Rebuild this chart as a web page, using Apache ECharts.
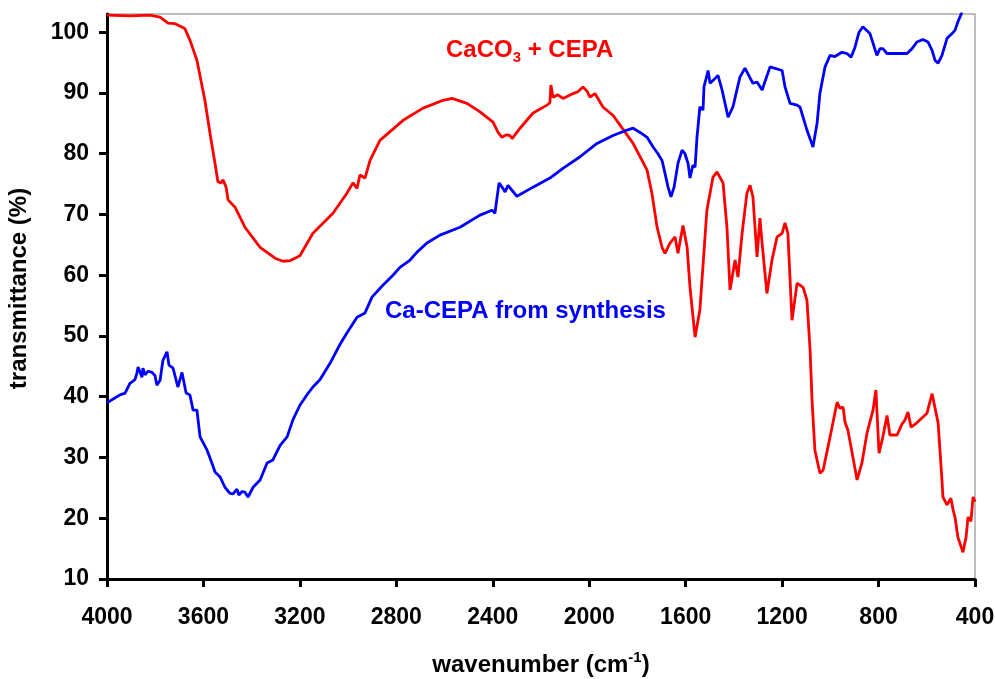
<!DOCTYPE html>
<html>
<head>
<meta charset="utf-8">
<script src="https://cdn.jsdelivr.net/npm/echarts@6/dist/echarts.min.js"></script>
<style>
  html, body { margin: 0; padding: 0; background: #fff; }
  #chart { width: 995px; height: 679px; }
</style>
</head>
<body>
<div id="chart"></div>
<script>
// IR spectra: CaCO3 + CEPA (red) and Ca-CEPA from synthesis (blue)
const redWavenumber = [4000,3905,3822,3780,3747,3718,3677,3656,3627,3594,3573,3552,3540,3527,3519,3506,3498,3469,3428,3365,3303,3270,3241,3200,3146,3063,3005,2980,2963,2951,2930,2909,2868,2772,2689,2606,2569,2507,2453,2399,2378,2362,2345,2329,2320,2287,2233,2175,2163,2159,2150,2130,2109,2067,2047,2026,2009,1997,1976,1943,1901,1872,1818,1789,1760,1740,1719,1698,1686,1665,1644,1632,1611,1594,1582,1561,1541,1512,1487,1470,1445,1429,1416,1395,1383,1366,1346,1333,1321,1304,1292,1283,1263,1242,1221,1200,1188,1176,1159,1138,1113,1097,1084,1076,1064,1043,1030,1001,972,960,947,939,927,889,869,848,823,811,798,782,765,753,723,703,690,678,665,641,628,599,578,553,537,533,516,500,491,483,471,450,437,429,417,408,400];
const redTransmittance = [102.8,102.7,102.8,102.5,101.5,101.4,100.6,98.7,95.4,88.8,83.4,78.4,75.4,75.2,75.7,74.5,72.4,71.2,67.9,64.6,62.8,62.3,62.4,63.2,66.9,70.2,73.5,75.2,74.3,76.5,76.0,78.9,82.2,85.5,87.5,88.8,89.1,88.3,86.9,85.2,83.5,82.7,83.1,83.0,82.5,84.2,86.7,88.0,88.4,91.3,89.3,89.7,89.1,89.9,90.2,91.0,90.3,89.3,89.9,87.7,86.3,84.7,81.7,79.5,77.3,73.5,68.0,64.6,63.6,65.3,66.3,63.6,68.2,64.6,58.0,49.8,54.3,70.7,76.1,77.0,75.2,68.0,57.6,62.5,59.7,66.9,73.5,74.8,72.9,63.0,69.4,65.3,57.0,62.5,66.3,66.9,68.6,66.9,52.6,58.7,58.0,55.9,47.7,39.5,31.2,27.4,27.9,33.4,39.1,38.1,38.3,35.8,34.5,26.3,29.1,34.0,37.8,41.1,30.7,33.4,36.9,33.7,33.7,35.5,36.2,37.5,35.0,35.7,36.2,37.3,40.5,35.7,26.3,23.5,22.2,23.3,21.4,20.2,16.9,14.4,16.9,20.2,19.5,23.5,22.7];

const blueWavenumber = [4000,3946,3925,3905,3884,3876,3871,3855,3851,3842,3830,3813,3801,3793,3780,3768,3751,3743,3726,3706,3689,3672,3656,3643,3627,3614,3585,3565,3552,3531,3511,3490,3477,3461,3453,3440,3428,3415,3394,3365,3336,3312,3282,3253,3229,3200,3171,3146,3117,3075,3034,3005,2963,2930,2901,2855,2814,2785,2743,2714,2673,2619,2536,2453,2403,2391,2374,2358,2349,2337,2300,2233,2163,2109,2038,1968,1901,1843,1818,1789,1760,1735,1715,1698,1686,1673,1661,1648,1632,1615,1603,1590,1582,1570,1561,1553,1541,1528,1524,1507,1499,1478,1466,1449,1424,1404,1375,1354,1333,1321,1304,1283,1250,1200,1188,1167,1138,1126,1113,1097,1072,1055,1043,1022,1001,981,952,931,914,898,881,865,836,823,807,794,782,765,711,682,661,641,616,595,578,566,553,537,516,495,483,471,454];
const blueTransmittance = [39.0,40.3,40.6,42.2,42.8,43.9,44.9,43.2,44.7,43.6,44.2,44.0,43.5,41.9,42.7,46.0,47.4,45.2,44.7,41.6,44.0,40.6,40.3,37.8,37.8,33.4,31.2,29.1,27.6,26.8,25.1,24.1,24.0,24.8,23.8,24.4,24.3,23.5,25.1,26.3,29.1,29.6,32.0,33.4,36.2,38.6,40.3,41.6,42.8,45.5,48.6,50.5,53.1,53.8,56.4,58.4,60.0,61.3,62.5,63.8,65.3,66.6,67.9,69.9,70.7,70.2,75.2,74.3,73.7,74.8,73.0,74.5,76.0,77.6,79.5,81.7,83.0,83.9,84.2,83.5,82.7,81.1,80.0,78.9,76.8,74.5,72.9,74.5,78.4,80.6,80.0,78.4,76.0,78.1,77.8,82.7,87.7,87.2,91.0,93.7,91.6,92.4,92.9,90.5,86.0,87.7,92.6,94.1,92.5,91.6,91.8,90.5,94.3,93.7,91.0,88.3,88.0,87.7,86.0,83.9,81.1,85.0,90.0,94.3,96.2,96.0,96.7,96.5,95.9,97.5,100.0,100.9,99.8,98.2,96.2,97.3,97.3,96.5,96.5,96.5,97.3,98.4,98.8,98.4,97.0,95.4,94.9,96.2,99.0,99.8,100.3,101.7,103.3];

const xTickValues = [400, 800, 1200, 1600, 2000, 2400, 2800, 3200, 3600, 4000];
const yTickValues = [10, 20, 30, 40, 50, 60, 70, 80, 90, 100];

const FONT = '"Liberation Sans", Arial, sans-serif';

function pairs(xs, ys) {
  return xs.map((x, i) => [x, ys[i]]);
}

const chart = echarts.init(document.getElementById('chart'), null, { renderer: 'canvas' });

chart.setOption({
  animation: false,
  backgroundColor: '#ffffff',
  grid: {
    left: 107, right: 20, top: 14, bottom: 100,
    outerBoundsMode: 'none',
    containLabel: false,
    show: true, borderColor: '#a8a8a8', borderWidth: 1.5, backgroundColor: 'transparent'
  },
  xAxis: {
    type: 'value',
    inverse: true,
    min: 400, max: 4000, interval: 400,
    splitLine: { show: false },
    axisLine: { show: true, onZero: false, lineStyle: { color: '#000', width: 3 } },
    axisTick: { show: true, length: 8, inside: false, lineStyle: { color: '#000', width: 3 }, customValues: xTickValues },
    axisLabel: {
      color: '#000', fontFamily: FONT, fontWeight: 'bold', fontSize: 23, margin: 27,
      customValues: xTickValues,
      formatter: (v) => String(v)
    },
    name: '{n|wavenumber (cm}{sup|-1}{n|)}',
    nameLocation: 'middle',
    nameGap: 71,
    nameTextStyle: {
      rich: {
        n: { color: '#000', fontFamily: FONT, fontWeight: 'bold', fontSize: 24, lineHeight: 30, verticalAlign: 'middle' },
        sup: { color: '#000', fontFamily: FONT, fontWeight: 'bold', fontSize: 15, lineHeight: 15, verticalAlign: 'top' }
      }
    }
  },
  yAxis: {
    type: 'value',
    min: 10, max: 103, interval: 10,
    splitLine: { show: false },
    axisLine: { show: true, onZero: false, lineStyle: { color: '#000', width: 3 } },
    axisTick: { show: true, length: 8, inside: false, lineStyle: { color: '#000', width: 3 }, customValues: yTickValues },
    axisLabel: {
      color: '#000', fontFamily: FONT, fontWeight: 'bold', fontSize: 23, margin: 18,
      customValues: yTickValues,
      formatter: (v) => String(v)
    },
    name: 'transmittance (%)',
    nameLocation: 'middle',
    nameGap: 76,
    nameTextStyle: { color: '#000', fontFamily: FONT, fontWeight: 'bold', fontSize: 24, padding: [0, 0, 0, 16] }
  },
  graphic: [
    {
      type: 'text', left: 446, top: 38, z: 100,
      style: {
        text: '{a|CaCO}{s|3}{a| + CEPA}',
        rich: {
          a: { fill: '#ff0000', font: 'bold 24px ' + FONT, lineHeight: 30, verticalAlign: 'middle' },
          s: { fill: '#ff0000', font: 'bold 15px ' + FONT, lineHeight: 15, verticalAlign: 'bottom' }
        }
      }
    },
    {
      type: 'text', left: 385, top: 299, z: 100,
      style: { text: 'Ca-CEPA from synthesis', fill: '#0000ff', font: 'bold 24px ' + FONT }
    }
  ],
  series: [
    {
      name: 'CaCO3 + CEPA',
      type: 'line',
      data: pairs(redWavenumber, redTransmittance),
      showSymbol: false,
      smooth: false,
      clip: true,
      lineStyle: { color: '#ff0000', width: 2.8 },
      z: 2
    },
    {
      name: 'Ca-CEPA from synthesis',
      type: 'line',
      data: pairs(blueWavenumber, blueTransmittance),
      showSymbol: false,
      smooth: false,
      clip: true,
      lineStyle: { color: '#0000ff', width: 2.8 },
      z: 3
    }
  ]
});
</script>
</body>
</html>
